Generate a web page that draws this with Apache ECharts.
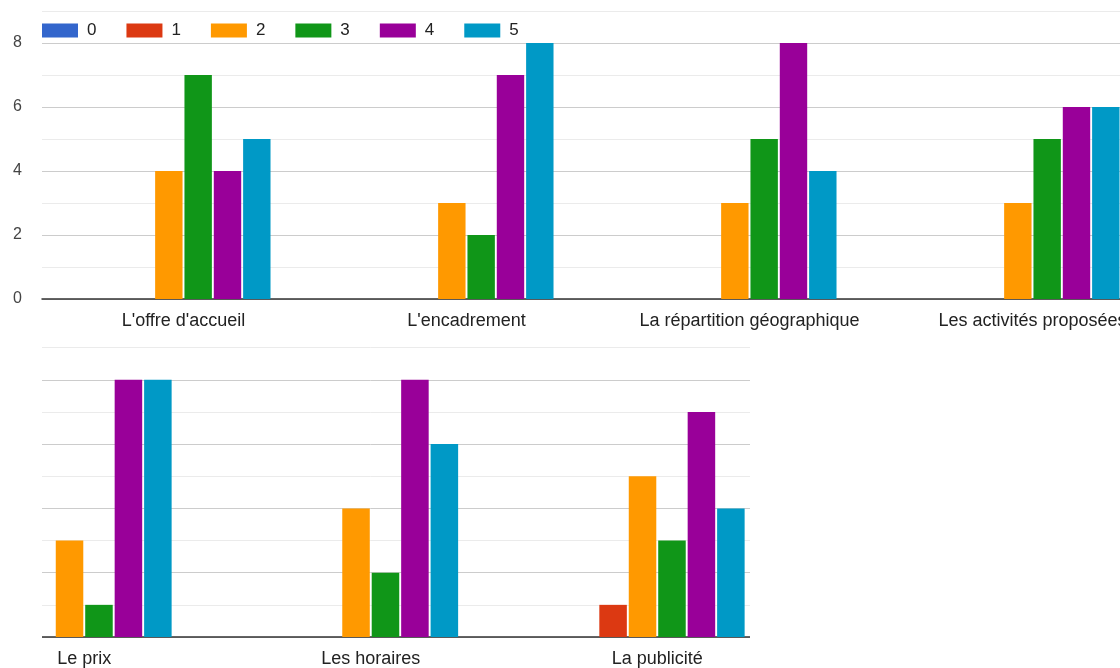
<!DOCTYPE html>
<html>
<head>
<meta charset="utf-8">
<script src="https://cdn.jsdelivr.net/npm/echarts@6/dist/echarts.min.js"></script>
<style>
  html, body { margin: 0; padding: 0; width: 1120px; height: 668px; overflow: hidden; background: #fff; }
  #top { position: absolute; left: 0; top: 0; width: 1180px; height: 340px; }
  #clip { position: absolute; left: 42px; top: 335px; width: 708px; height: 333px; overflow: hidden; }
  #bottom { position: absolute; left: -142px; top: 0; width: 1000px; height: 333px; }
</style>
</head>
<body>
<div id="top"></div>
<div id="clip"><div id="bottom"></div></div>
<script>
const seriesNames = ['0', '1', '2', '3', '4', '5'];
const seriesColors = ['#3366cc', '#dc3912', '#ff9900', '#109618', '#990099', '#0099c6'];

const categoriesTop = ["L'offre d'accueil", "L'encadrement", "La répartition géographique", "Les activités proposées"];
const top0 = [0, 0, 0, 0];
const top1 = [0, 0, 0, 0];
const top2 = [4, 3, 3, 3];
const top3 = [7, 2, 5, 5];
const top4 = [4, 7, 8, 6];
const top5 = [5, 8, 4, 6];

const categoriesBottom = ["Le prix", "Les horaires", "La publicité"];
const bot0 = [0, 0, 0];
const bot1 = [0, 0, 1];
const bot2 = [3, 4, 5];
const bot3 = [1, 2, 3];
const bot4 = [8, 8, 7];
const bot5 = [8, 6, 4];

const yTicks = [0, 2, 4, 6, 8];

const FONT = 'Liberation Sans, Arial, sans-serif';

function makeSeries(arrays, catGap) {
  return arrays.map((d, i) => ({
    name: seriesNames[i],
    type: 'bar',
    data: d,
    barGap: '7%',
    barCategoryGap: catGap,
    itemStyle: { color: seriesColors[i] },
    emphasis: { disabled: true },
    animation: false
  }));
}

function yAxisCfg(showLabels) {
  return {
    type: 'value',
    min: 0, max: 9, interval: 1,
    axisLine: { show: false },
    axisTick: { show: false },
    axisLabel: {
      show: showLabels,
      margin: 20,
      color: '#444',
      fontSize: 16,
      fontFamily: FONT,
      formatter: v => (yTicks.indexOf(v) >= 0 ? String(v) : '')
    },
    splitLine: { show: true, lineStyle: { color: ['#cccccc', '#ebebeb'], width: 1 } }
  };
}

function xAxisCfg(cats) {
  return {
    type: 'category',
    data: cats,
    axisTick: { show: false },
    axisLine: { show: true, lineStyle: { color: '#333', width: 1.5 } },
    axisLabel: { interval: 0, margin: 13, color: '#222', fontSize: 18, fontFamily: FONT }
  };
}

const chartTop = echarts.init(document.getElementById('top'));
chartTop.setOption({
  animation: false,
  textStyle: { fontFamily: FONT },
  legend: {
    left: 42, top: 22, padding: 0,
    icon: 'rect', itemWidth: 36, itemHeight: 14, itemGap: 30,
    textStyle: { color: '#222', fontSize: 17, fontFamily: FONT, padding: [0, 0, 0, 4] },
    data: seriesNames
  },
  grid: { left: 42, top: 11, width: 1132, height: 288 },
  xAxis: xAxisCfg(categoriesTop),
  yAxis: yAxisCfg(true),
  series: makeSeries([top0, top1, top2, top3, top4, top5], '38.5%')
});

const chartBottom = echarts.init(document.getElementById('bottom'));
chartBottom.setOption({
  animation: false,
  textStyle: { fontFamily: FONT },
  grid: { left: 41, top: 12.6, width: 859.5, height: 291.4 },
  xAxis: xAxisCfg(categoriesBottom),
  yAxis: yAxisCfg(false),
  series: makeSeries([bot0, bot1, bot2, bot3, bot4, bot5], '39%')
});
</script>
</body>
</html>
